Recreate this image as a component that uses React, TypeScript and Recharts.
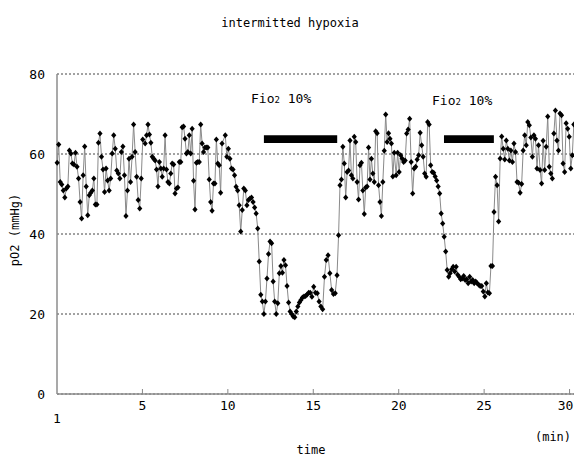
import React from "react";
import { LineChart, Line, XAxis, YAxis, CartesianGrid, ReferenceArea } from "recharts";

// pO2 readings (mmHg), grouped by time span (min)
const seg1 = [57.8, 62.4, 53.0, 52.4, 50.9, 49.1, 51.4, 51.9, 60.9, 60.1, 57.6, 57.4, 60.3, 56.8, 53.9, 48.0, 43.9, 54.7, 61.9, 51.9, 44.7, 49.7, 50.3, 50.9, 53.9, 47.4, 47.4, 62.8, 65.1, 59.3, 56.1, 50.5, 56.4, 53.4, 50.9, 53.9, 60.1, 64.7, 61.3, 55.9, 55.1, 53.9, 60.5, 61.9, 54.7, 44.5, 50.9, 58.8, 53.0, 59.3, 67.4, 60.5, 54.3, 48.5, 46.4, 53.9, 63.6];
const seg2 = [62.6, 64.7, 67.4, 64.9, 62.8, 59.3, 58.8, 58.4, 56.1, 51.9, 58.0, 56.4, 54.3, 56.4, 64.7, 56.1, 53.0, 52.6, 55.1, 57.6, 57.4, 50.1, 51.4, 51.6, 58.0, 58.0, 66.7, 66.9, 63.8, 60.1, 60.5, 64.7, 60.1, 66.3, 53.3, 46.1, 57.8, 58.0, 58.0, 67.4, 62.6, 60.5, 61.6, 61.6, 61.6, 53.6, 48.0, 45.8, 52.6, 52.6, 63.6, 57.6, 57.2, 50.3, 62.6];
const seg3 = [64.7, 59.3, 61.3, 58.8, 56.4, 56.1, 54.7, 51.8, 50.9, 47.2, 40.6, 46.0, 51.4, 50.9, 47.2, 48.5, 48.9, 49.1, 48.0, 46.6, 45.1, 41.4, 33.1, 24.8, 23.1, 20.0, 23.1, 28.9, 35.0, 38.1, 37.7, 28.1, 23.1, 20.0, 22.7, 30.2, 32.0, 30.3, 33.5, 32.2, 27.0, 22.9, 20.6, 20.0, 19.4, 19.2, 20.6, 21.9, 22.9, 23.5, 24.1, 24.4, 24.5, 24.9, 25.3, 25.3];
const seg4a = [24.3, 26.8, 25.3, 25.2, 23.1, 21.9, 21.2, 29.3, 33.5, 34.7, 30.2, 26.0, 25.0, 25.2, 29.7];
const seg4b = [39.7, 52.2, 53.6, 61.8, 57.6, 49.1, 55.5, 55.9, 63.4, 54.7, 53.9, 64.3, 63.0, 53.0, 48.6, 57.2, 57.8, 50.9, 45.0, 51.6, 51.9, 61.6, 53.6, 58.8, 55.1, 53.0, 65.7, 65.2, 52.2, 48.0, 44.5, 53.0, 60.8, 69.9, 63.0, 65.2, 63.8, 62.6, 54.4, 60.3];
const seg5 = [54.7, 60.3, 55.5, 59.7, 58.9, 58.0, 58.4, 65.1, 66.1, 68.8, 58.0, 50.1, 56.4, 56.8, 58.6, 59.7, 65.3, 62.2, 59.3, 55.1, 54.3, 68.0, 67.4, 57.2, 55.5, 55.3, 54.4, 53.4, 51.9, 50.1, 45.1, 42.6, 39.3, 35.6, 31.0, 29.3, 30.2, 31.2, 31.8, 30.6, 31.8, 29.8, 29.3, 28.7, 28.9, 29.5, 28.5, 28.7, 27.7, 29.3, 28.1, 28.5, 27.7, 28.1, 27.7, 27.3, 27.0];
const seg6 = [27.0, 25.6, 24.4, 27.7, 25.4, 25.2, 32.0, 32.0, 45.5, 54.3, 52.2, 43.1, 58.9, 64.4, 61.3, 58.6, 63.4, 61.3, 58.4, 60.9, 58.0, 62.6, 60.5, 53.0, 52.8, 50.3, 52.5, 60.9, 64.7, 62.2, 68.0, 67.2, 64.1, 59.3, 64.7, 63.8, 56.4, 62.2, 56.0, 52.6, 63.3, 56.0, 61.8, 69.4, 56.8, 55.1, 53.9, 65.1, 70.9, 63.4, 60.9, 70.1, 69.7, 57.6, 55.5, 67.7, 66.3, 64.3, 56.4, 59.7, 67.4];

const segStart = [0.01, 5.16, 9.85, 14.92, 16.48, 19.85, 24.86];
const segEnd = [5.02, 9.66, 14.82, 16.39, 19.74, 24.77, 30.25];
const segValues = [seg1, seg2, seg3, seg4a, seg4b, seg5, seg6];

// FiO2 10% periods (min) and the bar's vertical extent (mmHg)
const hypoxiaStart = [12.11, 22.65];
const hypoxiaEnd = [16.4, 25.57];
const barLow = 62.75;
const barHigh = 64.67;

const xTicks = [0, 5, 10, 15, 20, 25, 30];
const yTicks = [0, 20, 40, 60, 80];

const data = segValues.flatMap((vals, s) =>
  vals.map((v, i) => ({
    t: segStart[s] + ((segEnd[s] - segStart[s]) * i) / (vals.length - 1),
    v,
  }))
);

const FONT = "'DejaVu Sans Mono', monospace";

const Diamond = (props: any) => {
  const { cx, cy } = props;
  if (cx == null || cy == null) return null;
  return (
    <path
      d={`M${cx},${cy - 3}L${cx + 2.6},${cy}L${cx},${cy + 3}L${cx - 2.6},${cy}Z`}
      fill="#000"
    />
  );
};

const XTick = (props: any) => {
  const { x, y, payload } = props;
  const val = payload.value;
  if (val === 0) {
    return (
      <text x={x} y={y + 29} textAnchor="middle" fontSize={13} fontFamily={FONT} fill="#000">
        1
      </text>
    );
  }
  const tx = val === 30 ? x - 4 : x;
  return (
    <g>
      <line x1={x} x2={x} y1={y - 5} y2={y} stroke="#888" strokeWidth={1} />
      <text x={tx} y={y + 16} textAnchor="middle" fontSize={13} fontFamily={FONT} fill="#000">
        {val}
      </text>
    </g>
  );
};

export default function App() {
  return (
    <div style={{ position: "absolute", left: 0, top: 0, width: 574, height: 459, background: "#fff" }}>
      <LineChart width={574} height={459} data={data} margin={{ top: 74, right: 0, bottom: 0, left: 0 }}>
        <CartesianGrid vertical={false} strokeDasharray="2 2" stroke="#444" />
        <XAxis
          type="number"
          dataKey="t"
          domain={[0, 30.26]}
          ticks={xTicks}
          height={65}
          tickLine={false}
          tickSize={0}
          tickMargin={0}
          axisLine={{ stroke: "#8c8c8c", strokeWidth: 1.5 }}
          tick={<XTick />}
          interval={0}
        />
        <YAxis
          type="number"
          domain={[0, 80]}
          ticks={yTicks}
          width={57}
          tickLine={false}
          tickSize={0}
          tickMargin={12}
          axisLine={{ stroke: "#8c8c8c", strokeWidth: 1.5 }}
          tick={{ fontSize: 13, fontFamily: FONT, fill: "#000" }}
          interval={0}
        />
        {hypoxiaStart.map((s, i) => (
          <ReferenceArea
            key={i}
            x1={s}
            x2={hypoxiaEnd[i]}
            y1={barLow}
            y2={barHigh}
            fill="#000"
            fillOpacity={1}
            stroke="none"
          />
        ))}
        <Line
          type="linear"
          dataKey="v"
          stroke="#8a8a8a"
          strokeWidth={1}
          dot={<Diamond />}
          activeDot={false}
          isAnimationActive={false}
        />
      </LineChart>
      <svg
        width={574}
        height={459}
        style={{ position: "absolute", left: 0, top: 0, pointerEvents: "none" }}
        fontFamily={FONT}
      >
        <text x={290} y={27} textAnchor="middle" fontSize={12}>
          intermitted hypoxia
        </text>
        <text x={251} y={103} fontSize={13}>
          Fio<tspan fontSize={9}>2</tspan> 10%
        </text>
        <text x={432} y={105} fontSize={13}>
          Fio<tspan fontSize={9}>2</tspan> 10%
        </text>
        <text x={553} y={441} textAnchor="middle" fontSize={12}>
          (min)
        </text>
        <text x={311} y={454} textAnchor="middle" fontSize={12}>
          time
        </text>
        <text
          x={15}
          y={230}
          textAnchor="middle"
          dominantBaseline="central"
          fontSize={12}
          transform="rotate(-90, 15, 230)"
        >
          pO2 (mmHg)
        </text>
      </svg>
    </div>
  );
}
